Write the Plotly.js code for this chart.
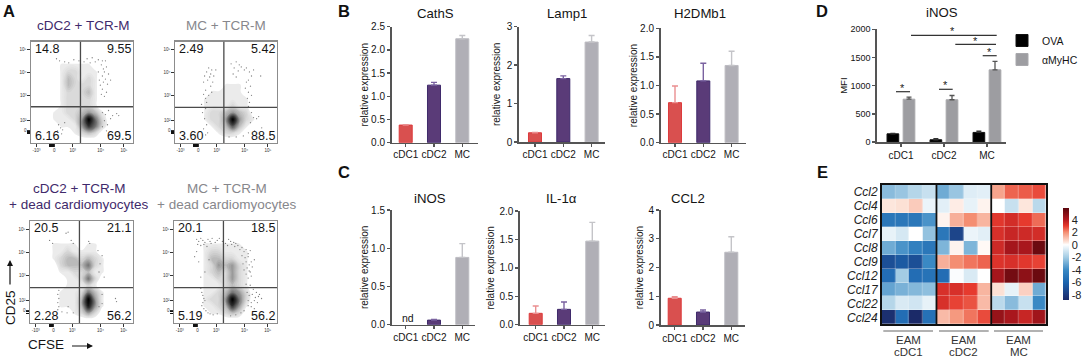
<!DOCTYPE html>
<html><head><meta charset="utf-8">
<script src="https://cdn.plot.ly/plotly-3.0.1.min.js"></script>
<style>html,body{margin:0;padding:0;background:#fff}#g{width:1084px;height:361px}</style>
</head><body><div id="g"></div>
<script>
// ---------- DATA ----------
const categories = ['cDC1','cDC2','MC'];
const cathS = [0.38,1.24,2.24],   cathSErr = [0.01,0.06,0.07];
const lamp1 = [0.24,1.65,2.60],   lamp1Err = [0.01,0.07,0.17];
const h2dmb1 = [0.70,1.08,1.35],  h2dmb1Err = [0.29,0.31,0.25];
const inos = [0,0.06,0.88],       inosErr = [0,0.01,0.18];
const il1a = [0.20,0.27,1.47],    il1aErr = [0.13,0.13,0.33];
const ccl2 = [0.93,0.45,2.53],    ccl2Err = [0.05,0.07,0.54];
const ova = [145,40,170],         ovaErr = [6,20,22];
const myhc = [760,750,1280],      myhcErr = [38,75,150];
const genes = ['Ccl2','Ccl4','Ccl6','Ccl7','Ccl8','Ccl9','Ccl12','Ccl17','Ccl22','Ccl24'];
const samples = ['1','2','3','4','5','6','7','8','9','10','11','12'];
const expr = [
 [-2.5,-2.2,-1.6,-1.2,-3.0,-2.2,-0.7,-0.6,1.6,2.5,2.6,2.8],
 [0.4,0.5,0.9,-0.4,-0.6,0.3,-0.5,0.2,0,-1.2,0.4,-1.5],
 [-5,-5,-5,-3.7,0.2,1.4,2,1.3,3.1,3.4,3,2.4],
 [-0.5,-0.9,0,-2.3,-5,-7.5,-0.4,-0.6,3.3,3.6,3.5,3.4],
 [-3,-3.7,-4.5,-5,-2.7,0.2,-2.7,0.1,3.5,4.3,4.2,5.5],
 [-7,-6.5,-7,-4,1.4,2,2.3,2.5,3.2,3.3,3.1,2.9],
 [-5.5,-2,-5.5,-5.2,-5.5,-0.1,-0.8,0,4.3,5.3,4.8,5.5],
 [-3.2,-2.8,-2.6,-2.4,3.3,3.3,3,1.3,0.5,-0.5,0.8,-3],
 [-1.6,-0.8,-1,-0.5,3.3,2.9,2.7,1.2,-1.5,-2.5,-1.2,-4],
 [-8.5,-5.5,-8.8,-5.3,1.2,1.8,2.3,2.8,4.6,4.2,3.6,4.4]];
const heatTicks = [4,2,0,-2,-4,-6,-8];
const heatTickText = ['4','2','0','-2','-4','-6','-8'];
const groupTop = ['EAM','EAM','EAM'];
const groupBottom = ['cDC1','cDC2','MC'];
const quad1 = ['14.8','9.55','6.16','69.5'];
const quad2 = ['2.49','5.42','3.60','88.5'];
const quad3 = ['20.5','21.1','2.28','56.2'];
const quad4 = ['20.1','18.5','5.19','56.2'];
const flowTicksX = [5.5,22.8,41,68.4,91];
const flowTicksY = [91.8,69.5,46.9,22.3,12.1];
const flowLabelsX = ['-10³','0','10³','10⁴','10⁵'];
const flowLabelsY = ['10⁵','10⁴','10³','10²','0'];
const gridX = [3.3,10,16.7,23.3,30,36.7,43.3,50,56.7,63.3,70,76.7,83.3,90,96.7];
const gridY = [96.7,90,83.3,76.7,70,63.3,56.7,50,43.3,36.7,30,23.3,16.7,10,3.3];
// density rows, top to bottom
const dens1 = [
 [0,0,0,0,0,0,0,0,0,0,0,0,0,0,0],[0,0,0,0,0,0,0,0,0,0,0,0,0,0,0],[0,0,0,0,0,0,0,0,0,0,0,0,0,0,0],
 [0,0,0,0,1,1,1,1,1,0,0,0,0,0,0],[0,0,0,0,1,2,2,1,1,1,0,0,0,0,0],[0,0,0,0,1,3,2,1,2,1,0,0,0,0,0],
 [0,0,0,0,1,3,2,2,2,1,0,0,0,0,0],[0,0,0,0,1,2,2,2,3,1,0,0,0,0,0],[0,0,0,0,1,2,2,2,2,1,0,0,0,0,0],
 [0,0,0,0,1,2,2,2,2,1,0,0,0,0,0],[0,0,0,1,1,2,2,3,4,3,1,0,0,0,0],[0,0,0,1,1,1,2,4,9,5,2,0,0,0,0],
 [0,0,0,0,1,1,1,4,7,5,2,0,0,0,0],[0,0,0,0,0,0,1,2,3,2,0,0,0,0,0],[0,0,0,0,0,0,0,0,0,0,0,0,0,0,0]];
const dens2 = [
 [0,0,0,0,0,0,0,0,0,0,0,0,0,0,0],[0,0,0,0,0,0,0,0,0,0,0,0,0,0,0],[0,0,0,0,0,0,0,0,0,0,0,0,0,0,0],
 [0,0,0,0,0,0,0,0,0,0,0,0,0,0,0],[0,0,0,0,0,0,0,0,0,0,0,0,0,0,0],[0,0,0,0,0,0,0,0,0,0,0,0,0,0,0],
 [0,0,0,0,0,0,0,1,1,1,0,0,0,0,0],[0,0,0,0,0,1,1,1,1,1,0,0,0,0,0],[0,0,0,0,1,1,1,1,1,1,1,0,0,0,0],
 [0,0,0,0,1,1,1,1,2,1,1,0,0,0,0],[0,0,0,0,1,2,2,3,4,3,2,0,0,0,0],[0,0,0,0,1,2,2,4,9,4,2,1,0,0,0],
 [0,0,0,0,0,1,2,3,6,3,1,0,0,0,0],[0,0,0,0,0,0,1,2,2,1,0,0,0,0,0],[0,0,0,0,0,0,0,0,0,0,0,0,0,0,0]];
const dens3 = [
 [0,0,0,0,0,0,0,0,0,0,0,0,0,0,0],[0,0,0,0,0,0,0,0,0,0,0,0,0,0,0],[0,0,0,0,0,0,0,0,0,0,0,0,0,0,0],
 [0,0,0,1,1,1,1,0,1,1,0,0,0,0,0],[0,0,0,1,1,2,1,1,1,1,0,0,0,0,0],[0,0,0,1,2,3,3,2,3,2,1,0,0,0,0],
 [0,0,0,0,2,3,3,3,5,2,1,0,0,0,0],[0,0,0,0,1,1,2,2,3,1,1,0,0,0,0],[0,0,0,0,0,1,1,2,5,2,0,0,0,0,0],
 [0,0,0,0,0,1,1,1,2,1,0,0,0,0,0],[0,0,0,0,1,1,1,2,5,3,1,0,0,0,0],[0,0,0,0,1,1,1,3,9,4,1,0,0,0,0],
 [0,0,0,0,1,1,1,3,8,4,1,0,0,0,0],[0,0,0,0,0,0,1,2,4,2,0,0,0,0,0],[0,0,0,0,0,0,0,0,0,0,0,0,0,0,0]];
const dens4 = [
 [0,0,0,0,0,0,0,0,0,0,0,0,0,0,0],[0,0,0,0,0,0,0,0,0,0,0,0,0,0,0],[0,0,0,0,0,0,0,0,0,0,0,0,0,0,0],
 [0,0,0,0,1,1,1,1,1,1,0,0,0,0,0],[0,0,0,0,1,2,2,1,1,1,1,0,0,0,0],[0,0,0,0,1,3,3,2,2,1,1,0,0,0,0],
 [0,0,0,0,1,2,4,3,4,2,1,0,0,0,0],[0,0,0,0,1,2,3,2,4,2,1,0,0,0,0],[0,0,0,0,1,1,2,2,4,2,1,0,0,0,0],
 [0,0,0,0,1,1,1,2,3,2,1,0,0,0,0],[0,0,0,0,1,1,2,3,5,4,2,0,0,0,0],[0,0,0,0,1,2,2,4,9,5,2,0,0,0,0],
 [0,0,0,0,1,1,2,3,7,4,1,0,0,0,0],[0,0,0,0,0,1,1,2,3,2,0,0,0,0,0],[0,0,0,0,0,0,0,0,0,0,0,0,0,0,0]];
const dotsX1 = [25,28,33,37,42,47,52,55,58,60,63,66,70,73,69,71,72,74,70,73,71,75,68,70,74,72,69,76,78,66,67,70,73,76,80,84,86,72,75,78,70,74,27,29,31,26,33,30];
const dotsY1 = [83,81,80,79,82,81,80,83,79,84,80,82,81,81,77,73,70,75,66,63,60,58,57,53,50,46,48,68,62,70,62,30,28,32,27,29,27,22,18,24,16,12,18,15,13,12,20,9];
const dotsX2 = [30,28,33,31,36,34,29,32,37,35,30,31,28,33,26,30,27,29,31,28,32,30,35,38,40,36,55,60,63,58,65,62,68,57,60,70,73,75,72,77,84,70,74,69,72,75,71,73,72,75,77,80,74,82,85,78,72,67,60,53];
const dotsY2 = [52,60,74,70,72,65,66,62,60,56,44,40,48,47,38,34,30,24,18,14,10,8,68,66,72,50,78,80,77,74,75,71,72,68,65,74,70,66,62,72,66,60,56,54,50,47,44,40,36,30,25,24,20,26,15,12,10,7,6,6];
const dotsX3 = [37,35,19,22,40,42,57,58,66,70,68,72,67,83,84,70,67,70,28,27,28,27,28,27,31,36,42,37];
const dotsY3 = [89,88,81,78,81,78,80,78,71,66,58,45,50,24,21,28,16,19,32,28,24,20,16,13,11,10,10,16];
const dotsX4 = [22,24,26,28,30,33,35,37,40,42,44,47,50,53,55,58,60,23,26,29,32,36,52,56,59,62,64,66,68,70,72,74,66,69,72,75,78,67,70,73,76,68,71,74,70,73,72,75,70,72,74,77,80,83,71,73,76,79,82,85,72,75,78,81,72,75,78,68,65,60,55,26,27,28,29,30,28,27,29,31,33,35,38,42,26,30,34,22,20,24];
const dotsY4 = [82,80,83,81,79,82,80,83,79,81,83,80,78,82,80,79,78,77,76,77,75,78,76,77,75,76,72,74,70,72,68,71,66,64,65,60,62,58,60,57,55,52,54,50,48,51,44,46,38,35,37,33,30,28,30,27,28,25,26,24,22,20,22,20,17,16,14,12,10,8,7,34,30,27,24,22,20,17,14,12,10,9,8,9,45,50,62,70,65,60];
const sigStars = ['*','*','*','*','*'];
// ---------- LAYOUT HELPERS ----------
const W=1084,H=361,FONT='Liberation Sans, Arial, sans-serif',INK='#141414';
const px=x=>x/W, py=y=>1-y/H;
const traces=[], annotations=[], shapes=[];
const layout={width:W,height:H,margin:{l:0,r:0,t:0,b:0,pad:0},paper_bgcolor:'#fff',plot_bgcolor:'rgba(0,0,0,0)',
 font:{family:FONT,color:INK},barmode:'overlay',annotations,shapes,showlegend:true,
 legend:{x:px(1002),y:py(26),xanchor:'left',yanchor:'top',font:{size:10.5,color:INK,family:FONT},bgcolor:'rgba(0,0,0,0)',itemwidth:30,tracegroupgap:0}};
let axN=0;
function addAxes(box,xopt,yopt){
 axN++; const s=axN===1?'':axN;
 layout['xaxis'+s]=Object.assign({domain:[px(box.l),px(box.r)],anchor:'y'+s,zeroline:false,showgrid:false,fixedrange:true},xopt);
 layout['yaxis'+s]=Object.assign({domain:[py(box.b),py(box.t)],anchor:'x'+s,zeroline:false,showgrid:false,fixedrange:true},yopt);
 return {x:'x'+s,y:'y'+s};
}
function txt(text,x,y,size,color,extra){
 annotations.push(Object.assign({text,x:px(x),y:py(y),xref:'paper',yref:'paper',showarrow:false,xanchor:'center',yanchor:'middle',
  font:{size,color:color||INK,family:FONT}},extra||{}));
}
// ---------- PANEL A ----------
const FLOWSCALE=[[0,'#ffffff'],[0.03,'#ffffff'],[0.05,'#ebebeb'],[0.11,'#e4e4e4'],[0.22,'#cfcfcf'],[0.33,'#b4b4b4'],[0.45,'#8e8e8e'],[0.56,'#6c6c6c'],[0.75,'#353535'],[1,'#000']];
function flow(box,dens,dx,dy,quad,qx,qy){
 const tickCommon={showline:true,mirror:true,linecolor:'#8c8c8c',linewidth:1.2,range:[0,100],ticks:'outside',ticklen:2.5,tickwidth:1,tickcolor:'#333',
  tickfont:{size:4.5,color:'#333'},tickmode:'array'};
 const a=addAxes(box,Object.assign({},tickCommon,{tickvals:flowTicksX,ticktext:flowLabelsX,
   minor:{tickmode:'array',tickvals:[18.5,19.5,20.5,21.5,22.5],ticks:'outside',ticklen:2.5,tickwidth:1,tickcolor:'#111'}}),
  Object.assign({},tickCommon,{tickvals:flowTicksY,ticktext:flowLabelsY,
   minor:{tickmode:'array',tickvals:[9.8,10.8,11.8],ticks:'outside',ticklen:2.5,tickwidth:1,tickcolor:'#111'}}));
 traces.push({type:'contour',x:gridX,y:gridY.slice().reverse(),z:dens.slice().reverse(),zmin:0,zmax:9,colorscale:FLOWSCALE,showscale:false,autocontour:false,
  contours:{start:0.5,end:9,size:0.3,coloring:'fill',showlines:false},line:{width:0,smoothing:1.3},xaxis:a.x,yaxis:a.y,hoverinfo:'skip',showlegend:false});
 traces.push({type:'scatter',mode:'markers',x:dx,y:dy,marker:{size:1.3,color:'#808080'},xaxis:a.x,yaxis:a.y,hoverinfo:'skip',showlegend:false});
 shapes.push({type:'line',xref:a.x,yref:a.y,x0:qx,x1:qx,y0:0,y1:100,line:{color:'#4a4a4a',width:1.3}});
 shapes.push({type:'line',xref:a.x,yref:a.y,x0:0,x1:100,y0:qy,y1:qy,line:{color:'#4a4a4a',width:1.3}});
 const q=(t,x,y,anchor)=>annotations.push({text:t,x,y,xref:a.x,yref:a.y,showarrow:false,xanchor:anchor,yanchor:'middle',xshift:0,font:{size:12.5,color:INK,family:FONT}});
 q(quad[0],2,93,'left'); q(quad[1],100,93,'right'); q(quad[2],2,7,'left'); q(quad[3],100,7,'right');
}
flow({l:31,r:133,t:41.5,b:143},dens1,dotsX1,dotsY1,quad1,48.5,35.7);
flow({l:175,r:277,t:41.5,b:143},dens2,dotsX2,dotsY2,quad2,47.9,35);
flow({l:30,r:133,t:221,b:323},dens3,dotsX3,dotsY3,quad3,48,34.7);
flow({l:174,r:277,t:221,b:323},dens4,dotsX4,dotsY4,quad4,48,34.7);
const PURPLE='#3f2a6b', GREYT='#87878c';
txt('cDC2 + TCR-M',83,26,13.5,PURPLE);
txt('MC + TCR-M',226,26,13.5,GREYT);
txt('cDC2 + TCR-M',79,188,13.5,PURPLE);
txt('+ dead cardiomyocytes',78,204.5,13.5,PURPLE);
txt('MC + TCR-M',226.5,188,13.5,GREYT);
txt('+ dead cardiomyocytes',226,204.5,13.5,GREYT);
txt('CD25',10,308,13.5,INK,{textangle:-90});
txt('CFSE',46,344,13.5,INK);
annotations.push({text:' ',x:px(10),y:py(260),xref:'paper',yref:'paper',axref:'pixel',ayref:'pixel',ax:0,ay:33,showarrow:true,arrowhead:2,arrowsize:1,arrowwidth:1.2,arrowcolor:INK,standoff:0,startstandoff:0});
annotations.push({text:' ',x:px(93),y:py(346),xref:'paper',yref:'paper',axref:'pixel',ayref:'pixel',ax:-24,ay:0,showarrow:true,arrowhead:2,arrowsize:1,arrowwidth:1.2,arrowcolor:INK,standoff:0,startstandoff:0});
// ---------- PANELS B, C ----------
const BAR=[{f:'#d9504f',l:'#dd3a3c',e:'#ea8f90'},{f:'#5a3b78',l:'#3f2a6b',e:'#7a62a0'},{f:'#b0afb6',l:'#bdbcc2',e:'#c4c4c8'}];
const AX={showline:true,linecolor:'#555',linewidth:1.7,ticks:'outside',ticklen:3,tickwidth:1.4,tickcolor:'#555',tickfont:{size:10,color:INK,family:FONT}};
function barPanel(title,tx,ty,vals,errs,box,c0,ymax,dtick,fmt,standoff,labelShift){
 const u=28.3;
 const a=addAxes(box,Object.assign({},AX,{type:'category',categoryorder:'array',categoryarray:categories,range:[(box.l-c0)/u,(box.r-c0)/u],tickangle:0,tickmode:'array',tickvals:categories,ticktext:categories,ticklabelstandoff:labelShift}),
  Object.assign({},AX,{range:[0,ymax],dtick,tick0:0,tickformat:fmt,title:{text:'relative expression',font:{size:10,color:INK,family:FONT},standoff}}));
 categories.forEach((c,i)=>{
  if(vals[i]===0) return;
  traces.push({type:'bar',x:[c],y:[vals[i]],width:0.46,xaxis:a.x,yaxis:a.y,marker:{color:BAR[i].f,line:{color:BAR[i].l,width:1}},
   error_y:{type:'data',symmetric:false,array:[errs[i]],arrayminus:[0],color:BAR[i].e,thickness:1.4,width:3},showlegend:false,name:c});
 });
 txt(title,tx,ty,13.2,INK);
}
barPanel('CathS',435,14,cathS,cathSErr,{l:391.7,r:478,t:26.7,b:142.7},405.7,2.5,0.5,'.1f',0,-1);
barPanel('Lamp1',567.3,14,lamp1,lamp1Err,{l:519,r:605,t:26.7,b:142},535,3,1,'.0f',4,-1);
barPanel('H2DMb1',700,14,h2dmb1,h2dmb1Err,{l:660.7,r:746,t:28.3,b:142.7},675,2,0.5,'.1f',0,-1);
barPanel('iNOS',430,198,inos,inosErr,{l:391.7,r:475,t:210,b:324.7},405.7,1.5,0.5,'.1f',0,0);
barPanel('IL-1α',561,198,il1a,il1aErr,{l:520,r:605,t:211,b:324.7},535.7,2,0.5,'.1f',3,0);
barPanel('CCL2',688,198,ccl2,ccl2Err,{l:660.7,r:745,t:210,b:325},674.7,4,1,'.0f',3,0);
txt('nd',408,318,10.5,INK);
const L={size:16.5,color:'#111'};
[['A',9,11],['B',344,11],['C',344,172],['D',822,11],['E',822,172]].forEach(p=>txt('<b>'+p[0]+'</b>',p[1],p[2],L.size,L.color));
// ---------- PANEL D ----------
(function(){
 const box={l:877,r:1005.7,t:29.3,b:142}, u=43, c0=901;
 const a=addAxes(box,Object.assign({},AX,{type:'category',categoryorder:'array',categoryarray:categories,range:[(box.l-c0)/u,(box.r-c0)/u],tickangle:0,tickmode:'array',tickvals:categories,ticktext:categories,tickfont:{size:10,color:INK,family:FONT}}),
  Object.assign({},AX,{range:[0,2000],dtick:500,tick0:0,tickfont:{size:9,color:INK,family:FONT},title:{text:'MFI',font:{size:9.5,color:INK,family:FONT},standoff:1}}));
 traces.push({type:'bar',name:'OVA',x:categories,y:ova,width:0.272,offset:-0.325,xaxis:a.x,yaxis:a.y,marker:{color:'#000',line:{color:'#111',width:1}},
  error_y:{type:'data',symmetric:false,array:ovaErr,arrayminus:[0,0,0],color:'#333',thickness:1.3,width:2.5}});
 traces.push({type:'bar',name:'αMyHC',x:categories,y:myhc,width:0.272,offset:0.05,xaxis:a.x,yaxis:a.y,marker:{color:'#9d9da1',line:{color:'#a8a8ac',width:1}},
  error_y:{type:'data',symmetric:false,array:myhcErr,arrayminus:[0,0,0],color:'#555',thickness:1.3,width:2.5}});
 txt('iNOS',941.7,12,13.2,INK);
 const sig=[[911,996.7,35.3,952.7,31.5],[955.3,996,44.3,975.7,41],[982.7,996.7,55.7,989,52],[896,910,91.7,902.7,87.5],[939,952.7,89.3,945.7,85]];
 sig.forEach((s,i)=>{
  shapes.push({type:'line',xref:'paper',yref:'paper',x0:px(s[0]),x1:px(s[1]),y0:py(s[2]),y1:py(s[2]),line:{color:'#333',width:1.2}});
  txt(sigStars[i],s[3],s[4],11,'#222');
 });
})();
// ---------- PANEL E ----------
(function(){
 const box={l:881.7,r:1046,t:185,b:324.3};
 const a=addAxes(box,{showline:true,mirror:true,linecolor:'#111',linewidth:1.6,type:'linear',range:[-0.5,11.5],showticklabels:false,ticks:''},
  {showline:true,mirror:true,linecolor:'#111',linewidth:1.6,type:'category',categoryorder:'array',categoryarray:genes,range:[9.5,-0.5],tickmode:'array',tickvals:genes,ticktext:genes.map(g=>'<i>'+g+'</i>'),ticks:'',tickfont:{size:12,color:'#222',family:FONT}});
 const zmin=-8.8,zmax=5.85,n=v=>(v-zmin)/(zmax-zmin);
 const cs=[[-8.8,'#1b2a68'],[-8,'#1d3a7e'],[-6,'#1b64ae'],[-4,'#3a89c4'],[-2,'#a3cce4'],[-0.3,'#f0f7fb'],[0,'#ffffff'],[0.4,'#fde6dc'],[2,'#f48e72'],[3,'#e63a2e'],[4,'#b3191f'],[5.85,'#5a060d']].map(p=>[n(p[0]),p[1]]);
 traces.push({type:'heatmap',x:samples.map((s,i)=>i),y:genes,z:expr,zmin,zmax,colorscale:cs,xgap:0.3,ygap:0.3,xaxis:a.x,yaxis:a.y,showlegend:false,hoverinfo:'z',
  colorbar:{x:px(1062.7),xanchor:'left',y:py(254.2),yanchor:'middle',len:91.7,lenmode:'pixels',thickness:5.6,thicknessmode:'pixels',xpad:0,ypad:0,outlinewidth:0,borderwidth:0,ticks:'',tickmode:'array',tickvals:heatTicks,ticktext:heatTickText,tickfont:{size:11,color:'#222',family:FONT}}});
 [3.5,7.5].forEach(v=>shapes.push({type:'line',xref:a.x,yref:a.y,x0:v,x1:v,y0:-0.5,y1:9.5,line:{color:'#111',width:1.8}}));
 [[883.3,933],[939,988.7],[994,1043]].forEach((s,i)=>{
  shapes.push({type:'line',xref:'paper',yref:'paper',x0:px(s[0]),x1:px(s[1]),y0:py(331),y1:py(331),line:{color:'#666',width:1.2}});
  const cx=(s[0]+s[1])/2;
  txt(groupTop[i],cx,339.5,11.5,'#333');
  txt(groupBottom[i],cx,352,11.5,'#333');
 });
})();
Plotly.newPlot('g',traces,layout,{displayModeBar:false,staticPlot:true});
</script></body></html>
